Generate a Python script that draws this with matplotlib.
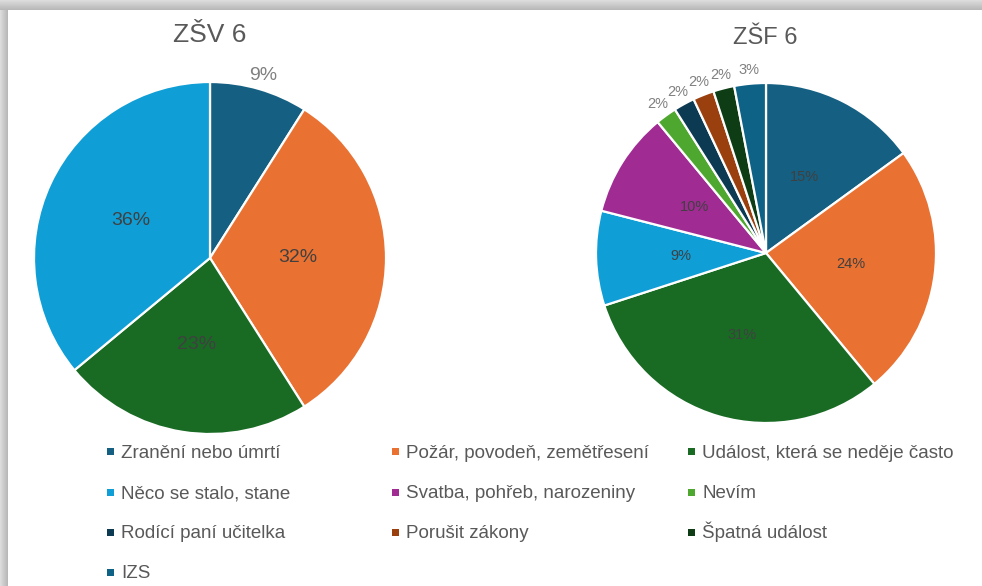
import numpy as np
import matplotlib.pyplot as plt
from matplotlib.patches import Rectangle

plt.rcParams['font.family'] = ['Liberation Sans', 'DejaVu Sans']

# data
categories = ['Zranění nebo úmrtí', 'Požár, povodeň, zemětřesení', 'Událost, která se neděje často',
              'Něco se stalo, stane', 'Svatba, pohřeb, narozeniny', 'Nevím',
              'Rodící paní učitelka', 'Porušit zákony', 'Špatná událost', 'IZS']
zsv_values = [9, 32, 23, 36]
zsf_values = [15, 24, 31, 9, 10, 2, 2, 2, 2, 3]
zsv_outside = [0]
zsf_outside = [5, 6, 7, 8, 9]
colors = ['#156082', '#E97132', '#196B24', '#0F9ED5', '#A02B93', '#4EA72E',
          '#0B3A52', '#9A400F', '#0E3D15', '#0E6286']

W, H = 982, 586
fig = plt.figure(figsize=(W / 100, H / 100), dpi=100)
fig.patch.set_facecolor('white')

# shadow frame on top and left
top = fig.add_axes([0, 1 - 10 / H, 1, 10 / H])
top.imshow(np.linspace(0.86, 0.72, 10).reshape(-1, 1), cmap='gray', vmin=0, vmax=1,
           aspect='auto', extent=(0, 1, 0, 1))
top.axis('off')
left = fig.add_axes([0, 0, 8 / W, 1 - 10 / H])
left.imshow(np.linspace(0.86, 0.72, 8).reshape(1, -1), cmap='gray', vmin=0, vmax=1,
            aspect='auto', extent=(0, 1, 0, 1))
left.axis('off')


def draw_pie(cx, cy, r, values, outside, fs):
    ax = fig.add_axes([(cx - r) / W, (H - cy - r) / H, 2 * r / W, 2 * r / H])
    wedges, texts, autotexts = ax.pie(
        values, colors=colors[:len(values)], startangle=90, counterclock=False,
        labels=[f'{v}%' if i in outside else '' for i, v in enumerate(values)],
        labeldistance=1.08, autopct='%.0f%%', pctdistance=0.5,
        wedgeprops=dict(edgecolor='white', linewidth=1.6),
        textprops=dict(fontsize=fs))
    for t in texts:
        t.set_ha('center')
        t.set_va('center')
        t.set_color('#808080')
    for i, t in enumerate(autotexts):
        t.set_color('#404040')
        if i in outside:
            t.set_text('')
    ax.set_xlim(-1, 1)
    ax.set_ylim(-1, 1)
    return wedges


draw_pie(210, 258, 176, zsv_values, zsv_outside, 14)
draw_pie(766, 253, 170, zsf_values, zsf_outside, 10.5)

fig.text(210 / W, 1 - 35 / H, 'ZŠV 6', ha='center', va='center', fontsize=19, color='#595959')
fig.text(765 / W, 1 - 38 / H, 'ZŠF 6', ha='center', va='center', fontsize=17, color='#595959')

# legend, three columns filled row by row
col_x = [107, 392, 688]
row_y = [451, 492, 532, 572]
for i, name in enumerate(categories):
    x = col_x[i % 3]
    y = row_y[i // 3]
    fig.patches.append(Rectangle((x / W, (H - y - 3.5) / H), 7 / W, 7 / H,
                                 transform=fig.transFigure, facecolor=colors[i],
                                 edgecolor='none'))
    fig.text((x + 14) / W, 1 - (y + 6.5) / H, name, ha='left', va='baseline',
             fontsize=13.5, color='#595959')

fig.savefig('out.png', dpi=100)
